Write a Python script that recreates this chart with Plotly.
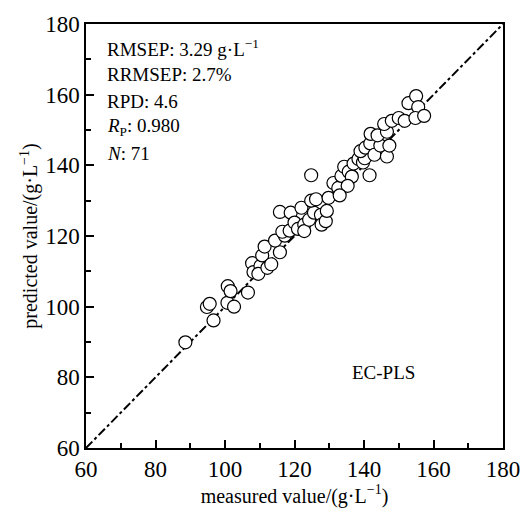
import plotly.graph_objects as go

measured = [88.6, 94.8, 95.6, 96.7, 100.7, 102.6, 100.8, 101.6, 106.6, 107.8,
            108.2, 110.2, 110.7, 109.6, 111.4, 112.2, 113.3, 115.8, 114.4, 117.2,
            116.5, 118.6, 115.8, 118.9, 122.0, 120.0, 121.0, 122.8, 122.8, 124.2,
            125.6, 124.8, 126.2, 124.8, 127.6, 127.8, 129.0, 129.3, 129.8, 131.2,
            132.6, 133.5, 134.3, 135.6, 136.5, 135.3, 137.0, 138.4, 139.7, 140.2,
            141.6, 139.0, 140.4, 141.8, 143.0, 144.7, 146.6, 147.3, 141.9, 143.9,
            146.6, 145.8, 148.0, 150.0, 151.7, 152.8, 155.0, 155.6, 154.8, 157.3,
            133.0]
predicted = [89.9, 99.9, 100.8, 96.1, 101.1, 100.0, 105.8, 104.4, 104.0, 112.3,
             109.8, 111.5, 114.5, 109.3, 117.0, 111.0, 112.0, 115.4, 118.7, 120.1,
             121.2, 121.5, 126.8, 126.6, 128.0, 123.8, 122.0, 123.2, 121.4, 124.6,
             126.6, 130.0, 130.4, 137.2, 126.0, 123.2, 124.2, 127.1, 130.8, 135.0,
             133.6, 137.0, 139.6, 138.2, 136.8, 134.2, 140.5, 141.8, 140.8, 142.0,
             137.2, 144.0, 145.0, 146.2, 143.0, 145.6, 142.5, 145.6, 148.9, 148.5,
             149.5, 151.7, 152.6, 153.4, 152.6, 157.6, 159.6, 156.5, 153.4, 154.0,
             131.5]
line_ends = [60, 180]
stats_lines = ["RMSEP: 3.29 g·L<sup>−1</sup>", "RRMSEP: 2.7%", "RPD: 4.6",
               "<i>R</i><sub>P</sub>: 0.980", "<i>N</i>: 71"]
label = "EC-PLS"

FONT = "Liberation Serif"

fig = go.Figure()
fig.add_trace(go.Scatter(x=line_ends, y=line_ends, mode="lines",
                         line=dict(color="black", width=2, dash="dashdot"),
                         showlegend=False, hoverinfo="skip"))
fig.add_trace(go.Scatter(x=measured, y=predicted, mode="markers",
                         marker=dict(symbol="circle", size=13, color="white",
                                     line=dict(color="black", width=1.2)),
                         showlegend=False))

ys_px = [48, 75, 102, 128, 155]
for t, yp in zip(stats_lines, ys_px):
    fig.add_annotation(x=(106 - 86) / 428, y=1 - (yp - 24) / 429, xref="paper", yref="paper",
                       text=t, showarrow=False, xanchor="left", yanchor="middle",
                       font=dict(family=FONT, size=19, color="black"))
fig.add_annotation(x=145.5, y=81.5, text=label, showarrow=False,
                   font=dict(family=FONT, size=19, color="black"))

axis_common = dict(range=[60, 180], dtick=20, ticks="inside", ticklen=8, tickwidth=1.5,
                   tickcolor="black", showline=True, linecolor="black", linewidth=1.5,
                   mirror=True, showgrid=False, zeroline=False,
                   tickfont=dict(family=FONT, size=23, color="black"),
                   minor=dict(dtick=10, ticks="inside", ticklen=5, tickwidth=1.5, tickcolor="black"))

fig.update_xaxes(**axis_common,
                 title=dict(text="measured value/(g·L<sup>−1</sup>)", standoff=2,
                            font=dict(family=FONT, size=20, color="black")))
fig.update_yaxes(**axis_common,
                 title=dict(text="predicted value/(g·L<sup>−1</sup>)", standoff=2,
                            font=dict(family=FONT, size=20, color="black")))

fig.update_layout(width=532, height=510, margin=dict(l=86, r=18, t=24, b=57),
                  plot_bgcolor="white", paper_bgcolor="white")

fig.write_html("out.html")
